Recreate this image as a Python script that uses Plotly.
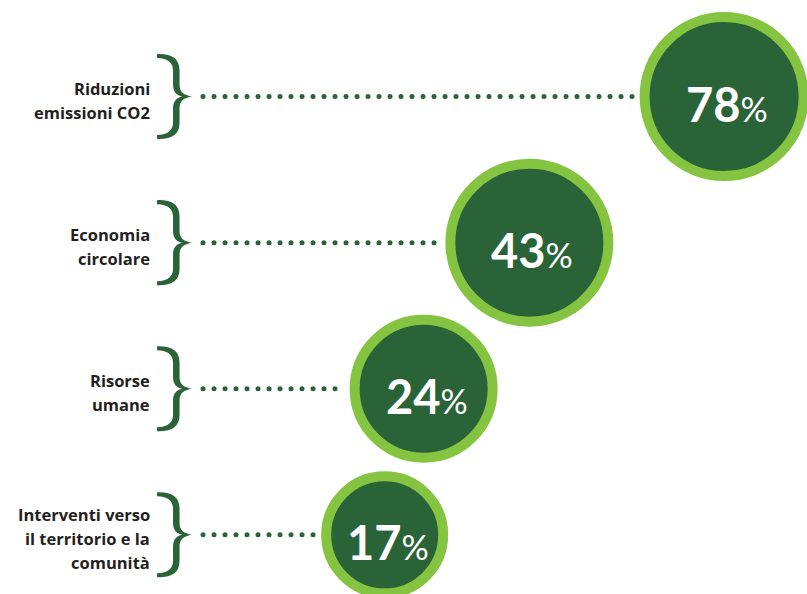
import numpy as np
import plotly.graph_objects as go

# Data
categories = [
    "Riduzioni<br>emissioni CO2",
    "Economia<br>circolare",
    "Risorse<br>umane",
    "Interventi verso<br>il territorio e la<br>comunità",
]
values = [78, 43, 24, 17]
value_labels = ["78", "43", "24", "17"]

# Styling
DARK_GREEN = "#2b6338"
LIGHT_GREEN = "#84c441"
TEXT_DARK = "#231f20"
bubble_sizes = [159, 158, 138, 117]   # marker diameters (px)
RING_WIDTH = 10

W, H = 807, 594
X_RANGE = [-52.14, 92.9]
Y_RANGE = [3.405, -0.661]
px_per_unit = W / (X_RANGE[1] - X_RANGE[0])

BRACE_X = -20.5      # spine of the curly braces
LABEL_X = -24.8      # right edge of the category labels
DOT_START = -15.65   # first dot of the leader lines
DOT_STEP = 11 / px_per_unit

rows = list(range(len(categories)))

fig = go.Figure()

# Dotted leader lines from brace to bubble
for i, v, s in zip(rows, values, bubble_sizes):
    edge = v - ((s + RING_WIDTH) / 2 + 4) / px_per_unit
    xs = np.arange(DOT_START, edge, DOT_STEP)
    fig.add_trace(go.Scatter(
        x=xs, y=[i] * len(xs), mode="markers",
        marker=dict(size=5, color=DARK_GREEN),
        hoverinfo="skip", showlegend=False,
    ))

# Bubbles
fig.add_trace(go.Scatter(
    x=values, y=rows, mode="markers",
    marker=dict(size=bubble_sizes, color=DARK_GREEN,
                line=dict(color=LIGHT_GREEN, width=RING_WIDTH), opacity=1),
    hoverinfo="skip", showlegend=False,
))

# Curly braces (filled outline, pixel offsets around the anchor)
brace_path = (
    "M -19,42.5 C -4,43 3.5,38 3.5,26 L 3.5,12 C 3.5,4 8,1.5 16,0 "
    "C 8,-1.5 3.5,-4 3.5,-12 L 3.5,-26 C 3.5,-38 -4,-43 -19,-42.5 "
    "L -19,-38.5 C -8,-38 -3,-34 -3,-26 L -3,-12 C -3,-4 1,-1 6,0 "
    "C 1,1 -3,4 -3,12 L -3,26 C -3,34 -8,38 -19,38.5 Z"
)
shapes = []
for i in rows:
    shapes.append(dict(
        type="path", path=brace_path, xref="x", yref="y",
        xsizemode="pixel", ysizemode="pixel",
        xanchor=BRACE_X, yanchor=i,
        fillcolor=DARK_GREEN, line=dict(width=0),
    ))

annotations = []

# Percentage labels inside the bubbles
for i, v, t in zip(rows, values, value_labels):
    annotations.append(dict(
        x=v, y=i, xref="x", yref="y", showarrow=False,
        text=f"<b>{t}</b><span style='font-size:34px;font-weight:400'>%</span>",
        xanchor="center", yanchor="middle", xshift=3, yshift=-7,
        font=dict(family="Lato", size=47, color="white", weight=900),
    ))

# Category labels, one annotation per line
LINE_GAP = 24
for i, label in zip(rows, categories):
    lines = label.split("<br>")
    n = len(lines)
    for k, line in enumerate(lines):
        annotations.append(dict(
            x=LABEL_X, y=i, xref="x", yref="y",
            text=line, showarrow=False,
            xanchor="right", yanchor="middle",
            yshift=-(4 + (k - (n - 1) / 2) * LINE_GAP),
            font=dict(family="Open Sans", size=16.5, color=TEXT_DARK, weight=700),
        ))

fig.update_layout(
    width=W, height=H,
    margin=dict(l=0, r=0, t=0, b=0),
    paper_bgcolor="white", plot_bgcolor="white",
    xaxis=dict(range=X_RANGE, visible=False, fixedrange=True),
    yaxis=dict(range=Y_RANGE, visible=False, fixedrange=True),
    shapes=shapes, annotations=annotations,
    showlegend=False,
)

fig.write_html("out.html")
